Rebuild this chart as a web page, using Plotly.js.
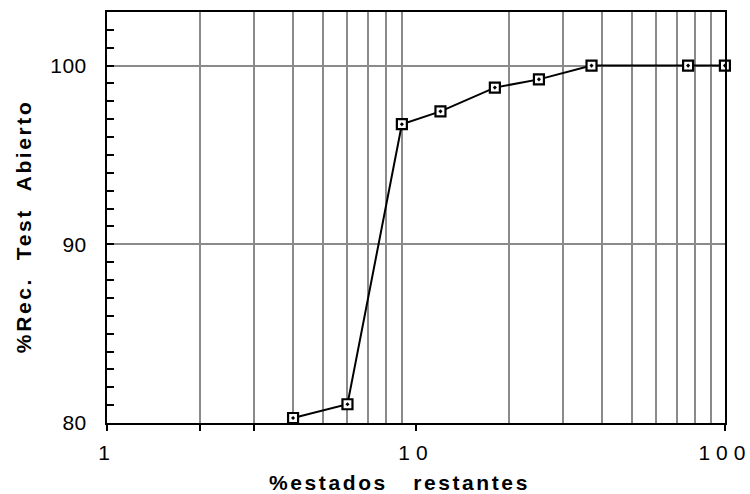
<!DOCTYPE html>
<html>
<head>
<meta charset="utf-8">
<script src="https://cdn.plot.ly/plotly-3.0.1.min.js"></script>
<style>
  html, body { margin: 0; padding: 0; background: #fff; }
  #chart { width: 750px; height: 494px; }
  .x2tick text { letter-spacing: 6px; }
  .ytick text { letter-spacing: 0.5px; }
  .annotation-text { letter-spacing: 2.6px; }
</style>
</head>
<body>
<div id="chart"></div>
<script>
// Data
const estadosRestantes = [4, 6, 9, 12, 18, 25, 37, 76, 100];
const recTestAbierto = [80.28, 81.05, 96.72, 97.44, 98.77, 99.23, 100, 100, 100];

// Axis ticks / grid
const xGridVals = [2, 3, 4, 5, 6, 7, 8, 9, 20, 30, 40, 50, 60, 70, 80, 90];
const xTickVals = [1, 2, 3, 10, 100];
const xTickText = ["1", "", "", "10", "100"];
const xLogRange = [-0.0003, 2.0003];
const yRange = [80, 103];

const xTitle = "%estados\u00A0\u00A0\u00A0restantes";
const yTitle = "%Rec.\u00A0\u00A0Test\u00A0\u00A0Abierto";

const FONT = '"Liberation Sans", Arial, Helvetica, sans-serif';

const trace = {
  x: estadosRestantes,
  y: recTestAbierto,
  type: 'scatter',
  mode: 'lines+markers',
  xaxis: 'x',
  yaxis: 'y',
  cliponaxis: false,
  line: { color: '#000', width: 2 },
  marker: {
    symbol: 'square-dot',
    size: 10,
    color: '#fff',
    line: { color: '#000', width: 2.2 }
  },
  hoverinfo: 'skip',
  showlegend: false
};

// empty helper trace so that the tick axis (xaxis2) gets drawn
const tickAxisTrace = {
  x: [], y: [],
  type: 'scatter',
  mode: 'markers',
  xaxis: 'x2',
  yaxis: 'y',
  hoverinfo: 'skip',
  showlegend: false
};

const layout = {
  width: 750,
  height: 494,
  margin: { l: 107, r: 25, t: 12, b: 71 },
  paper_bgcolor: '#fff',
  plot_bgcolor: '#fff',
  font: { family: FONT, color: '#000', size: 21 },
  showlegend: false,
  xaxis: {
    type: 'log',
    range: xLogRange,
    tickmode: 'array',
    tickvals: xGridVals,
    showticklabels: false,
    ticks: '',
    showgrid: true,
    gridcolor: '#8a8a8a',
    gridwidth: 2,
    zeroline: false,
    showline: true,
    linecolor: '#000',
    linewidth: 2,
    mirror: true
  },
  xaxis2: {
    type: 'log',
    range: xLogRange,
    autorange: false,
    overlaying: 'x',
    anchor: 'y',
    side: 'bottom',
    tickmode: 'array',
    tickvals: xTickVals,
    ticktext: xTickText,
    ticks: 'outside',
    ticklen: 7,
    tickwidth: 2,
    tickcolor: '#000',
    ticklabelstandoff: 4,
    ticklabeloverflow: 'allow',
    tickfont: { family: FONT, size: 21, color: '#000' },
    showgrid: false,
    zeroline: false,
    showline: false
  },
  yaxis: {
    range: yRange,
    tickmode: 'linear',
    tick0: 80,
    dtick: 10,
    ticks: 'inside',
    ticklen: 7,
    tickwidth: 2,
    tickcolor: '#000',
    ticklabelstandoff: 14,
    tickfont: { family: FONT, size: 21, color: '#000' },
    showgrid: true,
    gridcolor: '#8a8a8a',
    gridwidth: 2,
    zeroline: false,
    showline: true,
    linecolor: '#000',
    linewidth: 2,
    mirror: true,
    minor: {
      dtick: 1,
      tick0: 80,
      ticks: 'inside',
      ticklen: 7,
      tickwidth: 2,
      tickcolor: '#000',
      showgrid: false
    }
  },
  annotations: [
    {
      text: xTitle,
      xref: 'paper', yref: 'paper',
      x: 0.474, y: 0,
      xanchor: 'center', yanchor: 'middle',
      yshift: -59,
      showarrow: false,
      font: { family: FONT, size: 21, color: '#000', weight: 'bold' }
    },
    {
      text: yTitle,
      xref: 'paper', yref: 'paper',
      x: 0, y: 0.479,
      xanchor: 'center', yanchor: 'middle',
      xshift: -84,
      textangle: -90,
      showarrow: false,
      font: { family: FONT, size: 21, color: '#000', weight: 'bold' }
    }
  ]
};

Plotly.newPlot('chart', [trace, tickAxisTrace], layout, { staticPlot: true, displayModeBar: false });
</script>
</body>
</html>
